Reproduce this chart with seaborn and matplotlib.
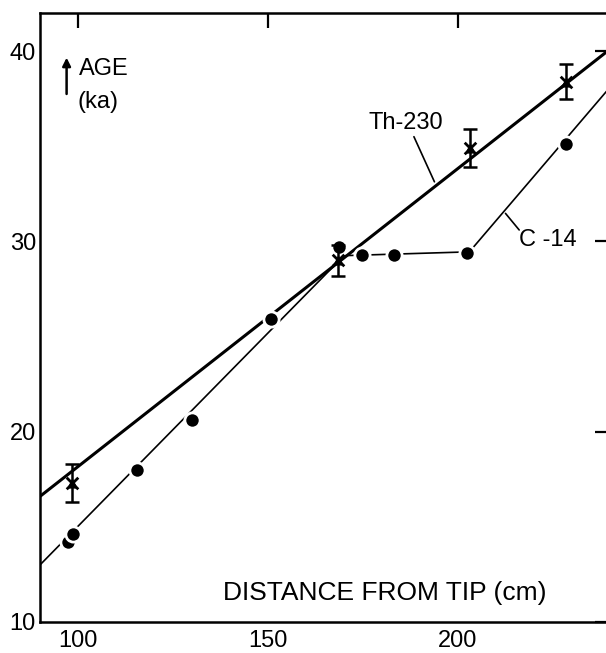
import numpy as np
import pandas as pd
import matplotlib.pyplot as plt
import seaborn as sns

# Th-230 dates (x = distance from tip, cm; age in ka; 1-sigma error)
th_x = [98.3, 168.4, 203.2, 228.4]
th_age = [17.3, 29.0, 34.9, 38.4]
th_err = [1.0, 0.8, 1.0, 0.9]
# hand-fitted Th-230 line
th_line_x = [90, 240]
th_line_y = [16.6, 40.1]

# C-14 dates
c14_x = [97.5, 98.8, 115.5, 130.0, 150.9, 168.6, 174.8, 183.2, 202.5, 228.3]
c14_age = [14.2, 14.6, 18.0, 20.6, 25.9, 29.7, 29.3, 29.3, 29.4, 35.1]
# hand-drawn C-14 curve
c14_line_x = [90, 170, 203, 240]
c14_line_y = [13.0, 29.25, 29.45, 38.1]

xticks = [100, 150, 200]
yticks = [10, 20, 30, 40]

sns.set_style("white")
plt.rcParams['font.family'] = ['Liberation Sans Narrow', 'Liberation Sans', 'DejaVu Sans']
plt.rcParams['text.color'] = 'black'

fig = plt.figure(figsize=(6.06, 6.53), dpi=100)
ax = fig.add_axes([40 / 606, 31 / 653, 570 / 606, 609 / 653])

th_line = pd.DataFrame({'x': th_line_x, 'y': th_line_y})
c14_line = pd.DataFrame({'x': c14_line_x, 'y': c14_line_y})
sns.lineplot(data=th_line, x='x', y='y', color='black', linewidth=2.2, ax=ax, zorder=2)
sns.lineplot(data=c14_line, x='x', y='y', color='black', linewidth=1.2, ax=ax, zorder=2)

# C-14 points, white rim leaves small gaps in the line like the original
c14 = pd.DataFrame({'x': c14_x, 'age': c14_age})
sns.scatterplot(data=c14, x='x', y='age', color='black', s=120, edgecolor='white',
                linewidth=2.0, ax=ax, zorder=4)

# Th-230 points with error bars
ax.errorbar(th_x, th_age, yerr=th_err, fmt='none', ecolor='black', elinewidth=1.8,
            capsize=5, capthick=1.8, zorder=5)
th = pd.DataFrame({'x': th_x, 'age': th_age})
sns.scatterplot(data=th, x='x', y='age', marker='^', color='black', s=45,
                edgecolor='black', ax=ax, zorder=6)
sns.scatterplot(data=th, x='x', y='age', marker='x', color='black', s=70,
                linewidth=2.0, ax=ax, zorder=6)

ax.set_xlim(90, 240)
ax.set_ylim(10, 42)
ax.set_xticks(xticks)
ax.set_yticks(yticks)
ax.set_xlabel('')
ax.set_ylabel('')

for side in ['left', 'bottom', 'top', 'right']:
    ax.spines[side].set_visible(True)
    ax.spines[side].set_linewidth(1.8)
    ax.spines[side].set_color('black')

ax.tick_params(axis='both', which='major', direction='in', length=11, width=1.6,
               top=True, right=True, labelsize=17, colors='black', pad=6)
ax.tick_params(axis='y', pad=3)

# labels inside the plot
ax.text(180.6, 11.5, 'DISTANCE FROM TIP (cm)', fontsize=19, ha='center', va='center')
ax.annotate('', xy=(97.0, 39.8), xytext=(97.0, 37.6),
            arrowprops=dict(arrowstyle='-|>', color='black', lw=1.8, mutation_scale=12))
ax.text(100.2, 39.05, 'AGE', fontsize=17, ha='left', va='center')
ax.text(99.8, 37.3, '(ka)', fontsize=17, ha='left', va='center')

ax.text(186.3, 36.2, 'Th-230', fontsize=17, ha='center', va='center')
ax.plot([188.4, 193.8], [35.5, 33.13], color='black', linewidth=1.2)
ax.text(223.6, 30.05, 'C -14', fontsize=17, ha='center', va='center')
ax.plot([212.5, 216.1], [31.47, 30.6], color='black', linewidth=1.2)

fig.savefig('out.png', dpi=100)
